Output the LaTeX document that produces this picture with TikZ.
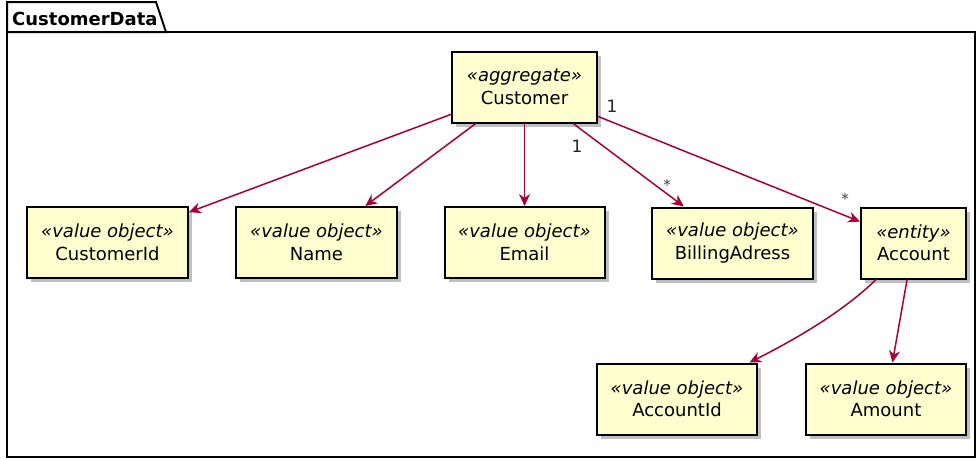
\documentclass[tikz,border=0pt]{standalone}
\usepackage{fontspec}
\setmainfont{DejaVu Sans}
\usetikzlibrary{arrows.meta,shadows}
\definecolor{ufill}{HTML}{FEFECE}
\definecolor{uarrow}{HTML}{A80036}
\tikzset{
  cls/.style={draw=black, line width=2pt, fill=ufill, inner sep=0pt,
    minimum height=71pt, align=center,
    font=\fontsize{18}{22.5}\selectfont,
    drop shadow={shadow xshift=4pt, shadow yshift=-4pt, fill=black, opacity=0.25}},
  rel/.style={draw=uarrow, line width=1.5pt,
    -{Stealth[length=12pt,width=11pt,inset=4pt]}},
  mult/.style={font=\fontsize{17}{20}\selectfont, inner sep=0pt, text=black!85},
  star/.style={font=\fontsize{15}{18}\selectfont, inner sep=0pt, text=black!75},
  frameline/.style={draw=black, line width=2pt}
}
\begin{document}
\begin{tikzpicture}[x=1pt,y=-1pt]
\useasboundingbox (0,0) rectangle (978,459);
% package frame
\draw[frameline, fill=white] (7,32) rectangle (975,457);
\draw[frameline, fill=white] (7,32) -- (7,2) -- (156,2) -- (166,32) -- cycle;
\node[anchor=base west, font=\bfseries\fontsize{18}{20}\selectfont, inner sep=0pt] (title) at (12,25) {CustomerData};
% classes
\node[cls, minimum width=145pt] (cust) at (524.5,87) {\textit{«aggregate»}\\Customer};
\node[cls, minimum width=161pt] (cid) at (107.5,242.5) {\textit{«value object»}\\CustomerId};
\node[cls, minimum width=161pt] (name) at (316.5,242.5) {\textit{«value object»}\\Name};
\node[cls, minimum width=160pt] (email) at (524.5,242.5) {\textit{«value object»}\\Email};
\node[cls, minimum width=161pt] (bill) at (732.5,243) {\textit{«value object»}\\BillingAdress};
\node[cls, minimum width=105pt] (acc) at (913.5,243) {\textit{«entity»}\\Account};
\node[cls, minimum width=160pt] (aid) at (677,399) {\textit{«value object»}\\AccountId};
\node[cls, minimum width=160pt] (amt) at (886,399) {\textit{«value object»}\\Amount};
% relations
\draw[rel] (cust) -- (cid);
\draw[rel] (cust) -- (name);
\draw[rel] (cust) -- (email);
\draw[rel] (cust) -- (bill);
\draw[rel] (cust) -- (acc);
\draw[rel] (acc) .. controls (850,305) and (810,332) .. (aid);
\draw[rel] (acc) -- (amt);
% multiplicities
\node[mult] (m1) at (577,146) {1};
\node[star] (m2) at (667,185) {*};
\node[mult] (m3) at (612,106) {1};
\node[star] (m4) at (845,199) {*};
\end{tikzpicture}
\end{document}
